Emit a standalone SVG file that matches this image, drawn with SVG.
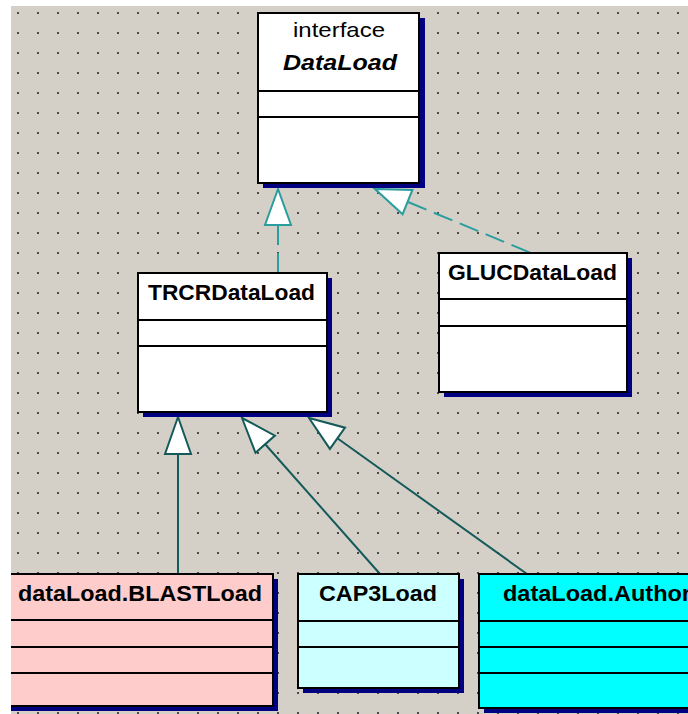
<svg xmlns="http://www.w3.org/2000/svg" width="688" height="714" viewBox="0 0 688 714">
  <style>
    .box { stroke: #000000; stroke-width: 2; }
    .shadow { fill: #000080; }
    .div { stroke: #000000; stroke-width: 2; }
    .name { font-family: "Liberation Sans", Arial, sans-serif; font-weight: bold; font-size: 22px; fill: #000000; }
    .stereo { font-family: "Liberation Sans", Arial, sans-serif; font-size: 21px; fill: #000000; }
    .iname { font-family: "Liberation Sans", Arial, sans-serif; font-weight: bold; font-style: italic; font-size: 22px; fill: #000000; }
    .realize { stroke: #2a9d9d; stroke-width: 2; fill: none; stroke-dasharray: 20 8; }
    .realize-head { stroke: #2a9d9d; stroke-width: 2; fill: #ffffff; stroke-linejoin: miter; }
    .extend { stroke: #145a5a; stroke-width: 2; fill: none; }
    .extend-head { stroke: #145a5a; stroke-width: 2; fill: #ffffff; stroke-linejoin: miter; }
  </style>
  <defs>
    <pattern id="grid" x="0" y="0" width="20" height="20" patternUnits="userSpaceOnUse">
      <rect x="17" y="12" width="2" height="2" fill="#4a4a4a"/>
    </pattern>
  </defs>

  <!-- canvas -->
  <rect x="0" y="0" width="688" height="714" fill="#ffffff"/>
  <rect x="11" y="6" width="677" height="708" fill="#d4d0c8"/>
  <rect x="11" y="6" width="677" height="708" fill="url(#grid)"/>

  <!-- connectors -->
  <g id="connectors">
    <!-- TRCRDataLoad realizes DataLoad -->
    <line class="realize" x1="278" y1="225" x2="278" y2="273"/>
    <polygon class="realize-head" points="278,189 265,225 291,225"/>
    <!-- GLUCDataLoad realizes DataLoad -->
    <line class="realize" x1="408" y1="202" x2="531" y2="253"/>
    <polygon class="realize-head" points="375,189 412.4,190 402.6,214.2"/>
    <!-- BLASTLoad extends TRCRDataLoad -->
    <line class="extend" x1="178" y1="454" x2="178" y2="574"/>
    <polygon class="extend-head" points="178,417 165,454 191,454"/>
    <!-- CAP3Load extends TRCRDataLoad -->
    <line class="extend" x1="265" y1="444" x2="380" y2="574"/>
    <polygon class="extend-head" points="242,418 274.9,435.6 255.5,452.8"/>
    <!-- Authority loader extends TRCRDataLoad -->
    <line class="extend" x1="337" y1="438" x2="527" y2="574"/>
    <polygon class="extend-head" points="309,418 345,427.7 329.9,448.9"/>
  </g>

  <!-- interface DataLoad -->
  <g id="DataLoad">
    <rect class="shadow" x="263" y="18" width="162" height="170"/>
    <rect class="box" x="258" y="13" width="161" height="170" fill="#ffffff"/>
    <line class="div" x1="258" y1="91" x2="419" y2="91"/>
    <line class="div" x1="258" y1="117" x2="419" y2="117"/>
    <text class="stereo" x="339" y="37" text-anchor="middle" textLength="92" lengthAdjust="spacingAndGlyphs">interface</text>
    <text class="iname" x="340" y="70" text-anchor="middle" textLength="114" lengthAdjust="spacingAndGlyphs">DataLoad</text>
  </g>

  <!-- TRCRDataLoad -->
  <g id="TRCRDataLoad">
    <rect class="shadow" x="143" y="278" width="189" height="139"/>
    <rect class="box" x="138" y="273" width="189" height="139" fill="#ffffff"/>
    <line class="div" x1="138" y1="320" x2="327" y2="320"/>
    <line class="div" x1="138" y1="346" x2="327" y2="346"/>
    <text class="name" x="148" y="300" textLength="167" lengthAdjust="spacingAndGlyphs">TRCRDataLoad</text>
  </g>

  <!-- GLUCDataLoad -->
  <g id="GLUCDataLoad">
    <rect class="shadow" x="444" y="258" width="188" height="139"/>
    <rect class="box" x="439" y="253" width="188" height="139" fill="#ffffff"/>
    <line class="div" x1="439" y1="299" x2="627" y2="299"/>
    <line class="div" x1="439" y1="326" x2="627" y2="326"/>
    <text class="name" x="448" y="280" textLength="169" lengthAdjust="spacingAndGlyphs">GLUCDataLoad</text>
  </g>

  <!-- dataLoad.BLASTLoad -->
  <g id="BLASTLoad">
    <rect class="shadow" x="0" y="579" width="278" height="132"/>
    <rect class="box" x="-10" y="574" width="283" height="132" fill="#ffcccc"/>
    <line class="div" x1="0" y1="620" x2="273" y2="620"/>
    <line class="div" x1="0" y1="647" x2="273" y2="647"/>
    <line class="div" x1="0" y1="673" x2="273" y2="673"/>
    <text class="name" x="18" y="601" textLength="244" lengthAdjust="spacingAndGlyphs">dataLoad.BLASTLoad</text>
  </g>

  <!-- CAP3Load -->
  <g id="CAP3Load">
    <rect class="shadow" x="303" y="579" width="161" height="114"/>
    <rect class="box" x="298" y="574" width="161" height="114" fill="#ccffff"/>
    <line class="div" x1="298" y1="621" x2="459" y2="621"/>
    <line class="div" x1="298" y1="647" x2="459" y2="647"/>
    <text class="name" x="319" y="601" textLength="118" lengthAdjust="spacingAndGlyphs">CAP3Load</text>
  </g>

  <!-- dataLoad.Author... (runs past the right edge) -->
  <g id="AuthorityLoad">
    <rect class="shadow" x="484" y="579" width="220" height="134"/>
    <rect class="box" x="479" y="574" width="220" height="134" fill="#00ffff"/>
    <line class="div" x1="479" y1="621" x2="699" y2="621"/>
    <line class="div" x1="479" y1="647" x2="699" y2="647"/>
    <line class="div" x1="479" y1="673" x2="699" y2="673"/>
    <text class="name" x="503" y="601" textLength="188" lengthAdjust="spacingAndGlyphs">dataLoad.Author</text>
  </g>

  <!-- page margin -->
  <rect x="0" y="0" width="11" height="714" fill="#ffffff"/>
  <rect x="0" y="0" width="688" height="6" fill="#ffffff"/>
</svg>
